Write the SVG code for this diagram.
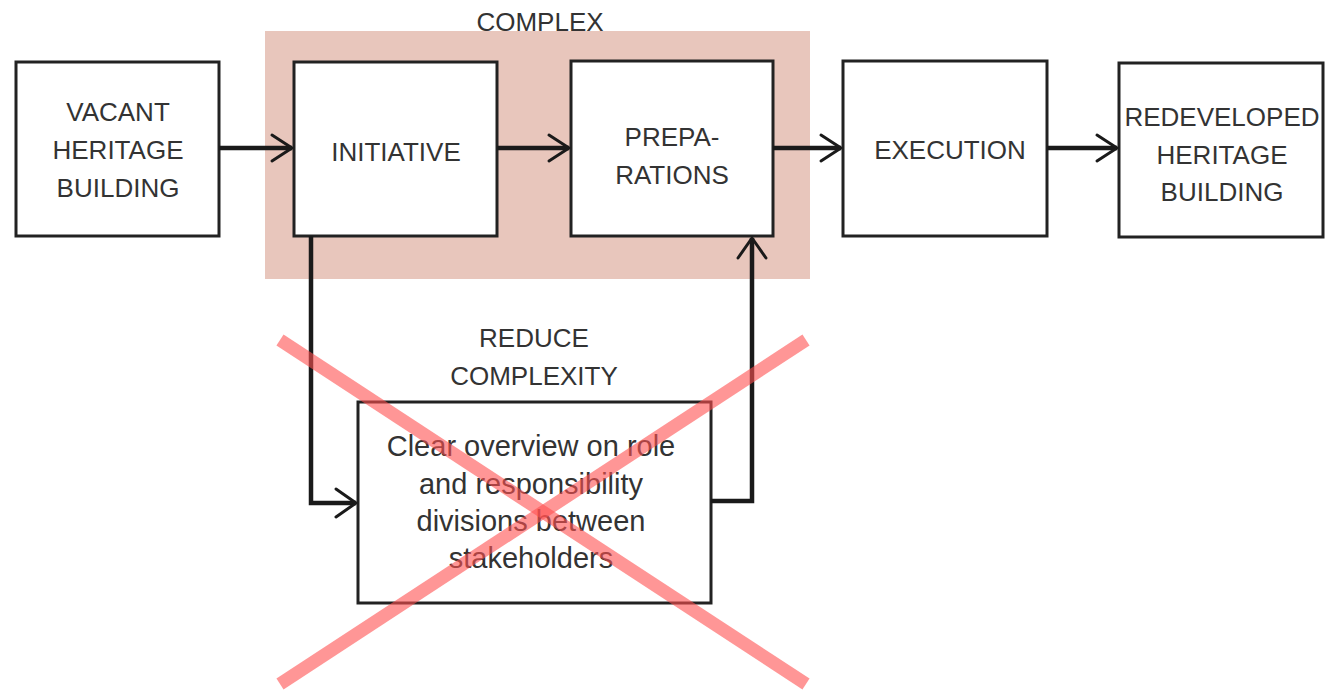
<svg xmlns="http://www.w3.org/2000/svg" width="1339" height="691" viewBox="0 0 1339 691">
<style>
.box{fill:#fff;stroke:#222;stroke-width:3}
.t{font-family:"Liberation Sans",Arial,sans-serif;font-size:26px;fill:#333;text-anchor:middle}
.s{font-size:29px}
.c{fill:none;stroke:#1a1a1a;stroke-width:4.5}
.h{fill:none;stroke:#1a1a1a;stroke-width:3;stroke-linecap:round;stroke-linejoin:round}
.x{stroke:#ff5050;stroke-opacity:0.6;stroke-width:13}
</style>
<rect width="1339" height="691" fill="#fff"/>
<g id="complex">
<rect x="265" y="31" width="545" height="248" fill="#e8c6bc"/>
<text class="t" x="540" y="31" font-size="25">COMPLEX</text>
</g>
<g id="vacant">
<rect class="box" x="16" y="62" width="203" height="174"/>
<text class="t" x="118" y="121">VACANT</text>
<text class="t" x="118" y="159">HERITAGE</text>
<text class="t" x="118" y="197">BUILDING</text>
</g>
<g id="initiative">
<rect class="box" x="294" y="62" width="203" height="174"/>
<text class="t" x="396" y="161">INITIATIVE</text>
</g>
<g id="preparations">
<rect class="box" x="571" y="61" width="202" height="175"/>
<text class="t" x="672" y="146">PREPA-</text>
<text class="t" x="672" y="184">RATIONS</text>
</g>
<g id="execution">
<rect class="box" x="843" y="61" width="204" height="175"/>
<text class="t" x="950" y="159">EXECUTION</text>
</g>
<g id="redeveloped">
<rect class="box" x="1119" y="63" width="204" height="174"/>
<text class="t" x="1222" y="126">REDEVELOPED</text>
<text class="t" x="1222" y="164">HERITAGE</text>
<text class="t" x="1222" y="201">BUILDING</text>
</g>
<g id="reduce">
<text class="t" x="534" y="347">REDUCE</text>
<text class="t" x="534" y="385">COMPLEXITY</text>
<rect class="box" x="358" y="402" width="353" height="201"/>
<text class="t s" x="531" y="456">Clear overview on role</text>
<text class="t s" x="531" y="494">and responsibility</text>
<text class="t s" x="531" y="531">divisions between</text>
<text class="t s" x="531" y="568">stakeholders</text>
</g>
<g id="connectors">
<path class="c" d="M219 148H292"/>
<path class="h" d="M272 135L292 148L272 161"/>
<path class="c" d="M497 148H569"/>
<path class="h" d="M549 135L569 148L549 161"/>
<path class="c" d="M773 148H841" stroke-width="5"/>
<path class="h" d="M821 135L841 148L821 161"/>
<path class="c" d="M1047 148H1117" stroke-width="5"/>
<path class="h" d="M1097 135L1117 148L1097 161"/>
<path class="c" d="M311 236V503H356"/>
<path class="h" d="M336 489L356 503L336 517"/>
<path class="c" d="M711 501H752V238"/>
<path class="h" d="M738 258L752 238L766 258"/>
</g>
<g id="cross">
<line class="x" x1="280" y1="340" x2="806" y2="684"/>
<line class="x" x1="806" y1="340" x2="280" y2="684"/>
</g>
</svg>
